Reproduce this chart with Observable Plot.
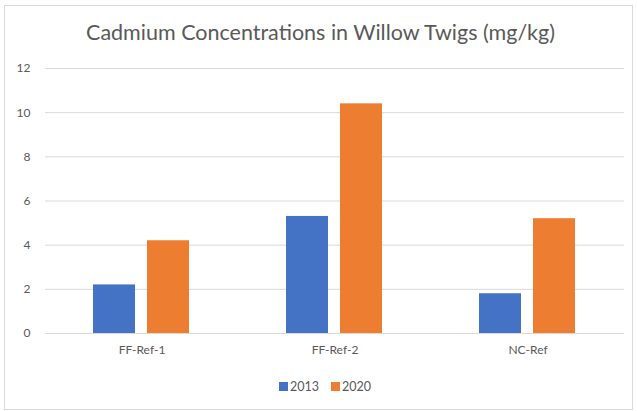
<!DOCTYPE html>
<html>
<head>
<meta charset="utf-8">
<script src="https://cdn.jsdelivr.net/npm/d3@7"></script>
<script src="https://cdn.jsdelivr.net/npm/@observablehq/plot@0.6"></script>
<style>
  html, body { margin: 0; padding: 0; background: #fff; }
  #wrap { position: relative; width: 637px; height: 411px; font-family: Lato, "Open Sans", sans-serif; color: #595959; }
  #frame { position: absolute; left: 4px; top: 5px; width: 627px; height: 403px; border: 1px solid #d9d9d9; }
  #title { position: absolute; left: 0; width: 641px; top: 20px; text-align: center; font-size: 21.5px; line-height: 1.2; color: #595959; z-index: 2; white-space: nowrap; }
  #chart { position: absolute; left: 0; top: 0; }
  #legend { position: absolute; left: 279px; top: 379px; display: flex; font-size: 12.5px; line-height: 15px; color: #595959; z-index: 2; }
  .item { display: flex; align-items: center; margin-right: 12px; }
  .sw { width: 9px; height: 9px; margin-right: 2px; }
</style>
</head>
<body>
<div id="wrap">
  <div id="frame"></div>
  <div id="chart"></div>
  <div id="title">Cadmium Concentrations in Willow Twigs (mg/kg)</div>
  <div id="legend"></div>
</div>
<script>
const sites = ["FF-Ref-1", "FF-Ref-2", "NC-Ref"];
const years = ["2013", "2020"];
const values2013 = [2.2, 5.3, 1.8];
const values2020 = [4.2, 10.4, 5.2];
const yTicks = [0, 2, 4, 6, 8, 10, 12];
const colors = ["#4472C4", "#ED7D31"];

const data = [];
sites.forEach((s, i) => {
  data.push({site: s, year: years[0], value: values2013[i]});
  data.push({site: s, year: years[1], value: values2020[i]});
});

const chart = Plot.plot({
  width: 637,
  height: 365,
  marginLeft: 45,
  marginRight: 13,
  marginTop: 68,
  marginBottom: 32,
  style: {background: "transparent", fontFamily: "Lato, 'Open Sans', sans-serif", fontSize: "12px", color: "#595959", overflow: "visible"},
  fx: {domain: sites, padding: 0, label: null, tickSize: 0, tickPadding: 12},
  x: {domain: years, paddingInner: 0.218, paddingOuter: 0.864, axis: null},
  y: {domain: [0, 12]},
  color: {domain: years, range: colors},
  marks: [
    Plot.gridY(yTicks, {stroke: "#d9d9d9", strokeOpacity: 1}),
    Plot.axisY(yTicks, {tickSize: 0, tickPadding: 15, label: null}),
    Plot.barY(data, {fx: "site", x: "year", y: "value", fill: "year"})
  ]
});
document.getElementById("chart").appendChild(chart);

const legend = document.getElementById("legend");
years.forEach((y, i) => {
  const it = document.createElement("div");
  it.className = "item";
  const sw = document.createElement("span");
  sw.className = "sw";
  sw.style.background = colors[i];
  const t = document.createElement("span");
  t.textContent = y;
  it.appendChild(sw);
  it.appendChild(t);
  legend.appendChild(it);
});
</script>
</body>
</html>
